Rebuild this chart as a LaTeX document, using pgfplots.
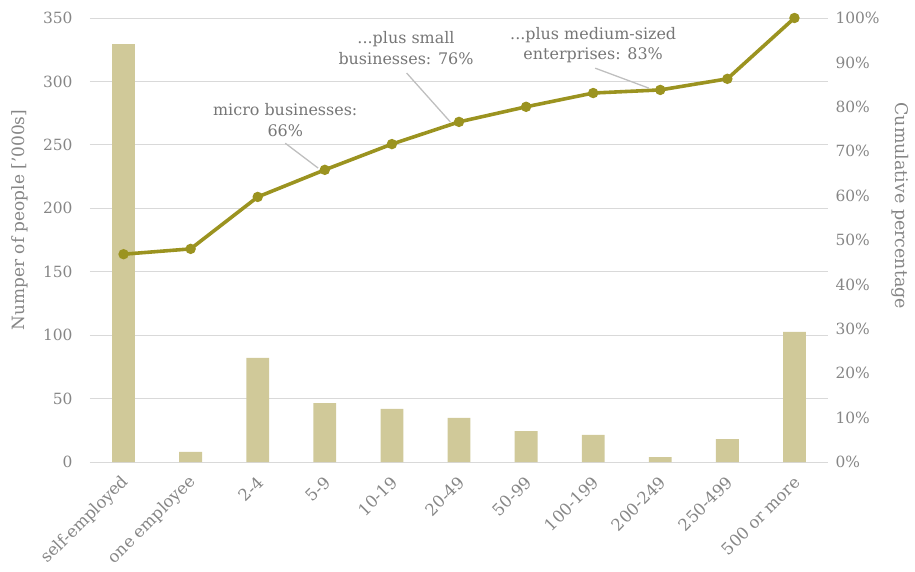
\documentclass[border=0pt]{standalone}
\usepackage{fontspec}
\setmainfont{DejaVu Serif}
\usepackage{pgfplots}
\pgfplotsset{compat=1.18}
\definecolor{barc}{RGB}{208,201,153}
\definecolor{linec}{RGB}{155,147,32}
\definecolor{gridc}{RGB}{217,217,217}
\definecolor{txt}{RGB}{134,134,134}
\definecolor{anno}{RGB}{118,118,118}
\definecolor{leader}{RGB}{191,191,191}
\pgfplotsset{
  /pgf/number format/assume math mode=true,
  common/.style={
    scale only axis, width=738bp, height=444bp,
    xmin=-0.5, xmax=10.5,
    major tick length=0,
    tick label style={font=\fontsize{15.5}{18}\selectfont, text=txt},
  },
}
\begin{document}
\begin{tikzpicture}
\begin{axis}[common,
  ymin=0, ymax=350, ytick={0,50,...,350},
  axis lines*=left,
  x axis line style={draw=gridc, line width=1pt},
  y axis line style={draw=none},
  ymajorgrids, grid style={gridc, line width=0.8pt},
  xtick={0,...,10},
  xticklabels={self-employed, one employee, 2-4, 5-9, 10-19, 20-49, 50-99, 100-199, 200-249, 250-499, 500 or more},
  xticklabel style={xshift=5bp, yshift=-15bp, rotate=45, anchor=east, font=\fontsize{16.5}{18}\selectfont},
  yticklabel style={xshift=-14bp},
  ylabel={Numper of people ['000s]},
  every axis y label/.style={at={(axis description cs:-0.095,0.545)}, rotate=90, anchor=center,
    font=\fontsize{17}{19}\selectfont, text=txt},
]
\addplot[ybar, bar width=0.34, fill=barc, draw=none] coordinates {
  (0,329.5) (1,7.9) (2,82) (3,46.5) (4,41.8) (5,34.7)
  (6,24.4) (7,21.3) (8,3.9) (9,18.1) (10,102.5)
};
\end{axis}
\begin{axis}[common,
  ymin=0, ymax=100, ytick={0,10,...,100},
  yticklabel={\pgfmathprintnumber{\tick}\%},
  axis x line=none, axis y line*=right,
  y axis line style={draw=none},
  yticklabel style={xshift=4bp},
  ylabel={Cumulative percentage},
  every axis y label/.style={at={(axis description cs:1.0976,0.577)}, rotate=-90, anchor=center,
    font=\fontsize{17.5}{19}\selectfont, text=txt},
]
\addplot[linec, line width=3.6pt, mark=*, mark size=3.3bp, mark options={fill=linec, draw=linec}] coordinates {
  (0,46.8) (1,48.0) (2,59.7) (3,65.8) (4,71.6) (5,76.6)
  (6,80.0) (7,83.1) (8,83.8) (9,86.3) (10,100)
};
\draw[leader, line width=1.3pt] (axis cs:2.41,71.8) -- (axis cs:2.90,66.2);
\draw[leader, line width=1.3pt] (axis cs:4.22,87.6) -- (axis cs:4.87,76.6);
\draw[leader, line width=1.3pt] (axis cs:7.03,88.7) -- (axis cs:7.83,84.2);
\node[anno, font=\fontsize{16}{21}\selectfont, align=center] at (axis cs:2.41,77.0) {micro businesses:\\66\%};
\node[anno, font=\fontsize{16}{21}\selectfont, align=center] at (axis cs:4.21,93.2) {...plus small\\businesses: 76\%};
\node[anno, font=\fontsize{16}{21}\selectfont, align=center] at (axis cs:7.00,93.9) {...plus medium-sized\\enterprises: 83\%};
\end{axis}
\path ([shift={(-90bp,-108bp)}]current axis.south west) rectangle ([shift={(87bp,18bp)}]current axis.north east);
\end{tikzpicture}
\end{document}
